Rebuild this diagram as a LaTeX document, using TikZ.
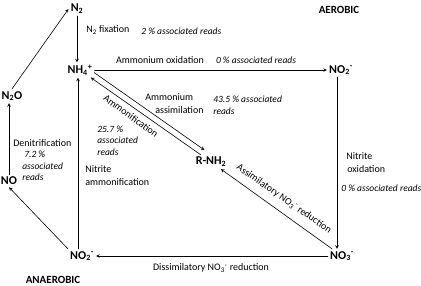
\documentclass[tikz,border=0pt]{standalone}
\usepackage{fontspec}
\setmainfont{Carlito}
\begin{document}
\begin{tikzpicture}[x=1pt,y=-1pt,line join=round,line cap=round,>=stealth,semithick]
			\tikzset{sp/.style={font=\bfseries\fontsize{12}{14}\selectfont,inner sep=2pt},
				zone/.style={font=\bfseries\fontsize{11}{13}\selectfont,inner sep=0pt},
				lbl/.style={font=\fontsize{10}{13}\selectfont,align=left,inner sep=0pt},
				rds/.style={font=\itshape\fontsize{9.5}{11.5}\selectfont,align=left,inner sep=0pt}}
			\useasboundingbox (0,0) rectangle (421,286);
			% species
			\node[sp] (N2) at (77,9) {N\textsubscript{2}};
			\node[sp] (NH4) at (80,70) {NH\textsubscript{4}\textsuperscript{+}};
			\node[sp] (NO2t) at (341,70) {NO\textsubscript{2}\textsuperscript{-}};
			\node[sp] (NO3) at (342,256) {NO\textsubscript{3}\textsuperscript{-}};
			\node[sp] (NO2b) at (82,256) {NO\textsubscript{2}\textsuperscript{-}};
			\node[sp] (NO) at (9,181) {NO};
			\node[sp] (N2O) at (12,96) {N\textsubscript{2}O};
			\node[sp] (RNH2) at (211,162) {R-NH\textsubscript{2}};
			\node[zone] (aer) at (339,10) {AEROBIC};
			\node[zone] (anaer) at (53,280) {ANAEROBIC};
			% labels
			\node[lbl,anchor=west] (fix) at (86,30) {N\textsubscript{2} fixation};
			\node[rds,anchor=west] (fixr) at (141,31) {2 \% associated reads};
			\node[lbl] (amox) at (160,60) {Ammonium oxidation};
			\node[rds] (amoxr) at (256,60) {0 \% associated reads};
			\node[lbl,anchor=west] (amas) at (145,103.5) {Ammonium\\\hspace{10pt}assimilation};
			\node[rds,anchor=west] (amasr) at (213,105) {43.5 \% associated\\reads};
			\node[lbl,rotate=-36] (amon) at (131,116) {Ammonification};
			\node[rds,anchor=west] (amonr) at (97,140.5) {25.7 \%\\associated\\reads};
			\node[lbl,anchor=west] (niam) at (85,175.5) {Nitrite\\ammonification};
			\node[lbl,anchor=west] (niox) at (346,162.5) {Nitrite\\\hspace{1pt}oxidation};
			\node[rds,anchor=west] (nioxr) at (341,188) {0 \% associated reads};
			\node[lbl,anchor=west] (dnit) at (13,143) {Denitrification};
			\node[rds,anchor=west] (dnitr) at (22,166) {\hspace{2pt}7.2 \%\\associated\\reads};
			\node[lbl] (dissim) at (211,268) {Dissimilatory NO\textsubscript{3}\textsuperscript{-} reduction};
			\node[lbl,rotate=-35] (assim) at (284,199) {Assimilatory NO\textsubscript{3}\textsuperscript{-} reduction};
			% pathways
			\draw[->] (N2) -- (N2|-NH4.north);
			\draw[->] (N2O.north) -- (N2.west);
			\draw[->] (NO) -- (NO|-N2O.south);
			\draw[->] (NO2b.north west) -- (NO.south);
			\draw[->] ([xshift=-4pt]NO2b.north) -- ([xshift=-4pt]NO2b.north|-NH4.south);
			\draw[->] (NH4) -- (NO2t);
			\draw[->] ([xshift=-4pt]NO2t.south) -- ([xshift=-4pt]NO2t.south|-NO3.north);
			\draw[->] (NO3) -- (NO2b);
			\draw[->] (NO3) -- (RNH2);
			\draw[->] (RNH2) -- (NH4);
			\draw[->,transform canvas={shift={(3.5pt,4.9pt)}}] (NH4) -- (RNH2);
		\end{tikzpicture}
\end{document}
